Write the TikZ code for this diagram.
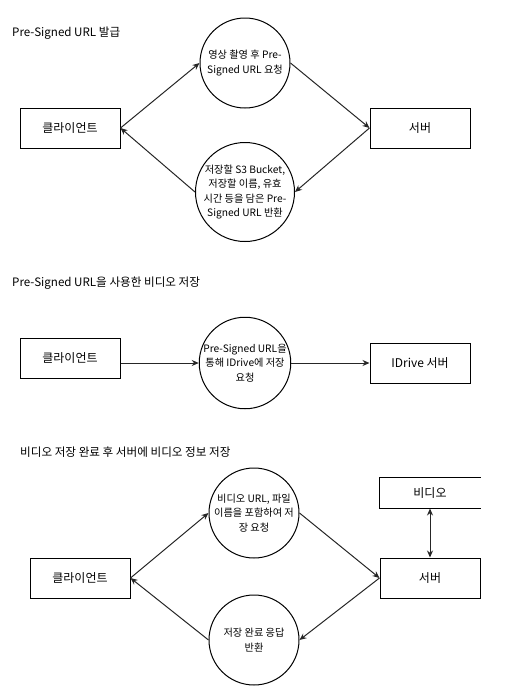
\documentclass[tikz,border=0pt]{standalone}
\usepackage{fontspec}
\setmainfont{Noto Sans CJK KR}
\usetikzlibrary{arrows.meta,positioning,calc}

\begin{document}
\begin{tikzpicture}[x=1pt,y=1pt,
    every node/.style={font=\fontsize{12}{14}\selectfont},
    box/.style={draw,line width=1pt,minimum width=100pt,minimum height=40pt,inner sep=0pt},
    proc/.style={draw,circle,line width=1pt,minimum size=90pt,inner sep=0pt,align=center,
                 font=\fontsize{10.2}{14.5}\selectfont},
    title/.style={anchor=west,inner sep=0pt,font=\fontsize{11.6}{13}\selectfont},
    flow/.style={-{Stealth[length=7pt,width=6pt]},line width=1pt,draw=black!85}]
  \useasboundingbox (0,0) rectangle (519,-689);

  % Pre-Signed URL 발급
  \node[title] (t1) at (12,-33) {Pre-Signed URL 발급};
  \node[box]  (cli1) at (70,-128)  {클라이언트};
  \node[box]  (srv1) at (420,-128) {서버};
  \node[proc] (req1) at (245,-63)  {영상 촬영 후 Pre-\\Signed URL 요청};
  \node[proc] (ret1) at (245,-192) {저장할 S3 Bucket,\\저장할 이름, 유효\\시간 등을 담은 Pre-\\Signed URL 반환};
  \draw[flow] (cli1.east) -- (req1.west);
  \draw[flow] (req1.east) -- (srv1.west);
  \draw[flow] (srv1.west) -- (ret1.east);
  \draw[flow] (ret1.west) -- (cli1.east);

  % Pre-Signed URL을 사용한 비디오 저장
  \node[title] (t2) at (12,-283) {Pre-Signed URL을 사용한 비디오 저장};
  \node[box]  (cli2) at (70,-358)  {클라이언트};
  \node[proc] (up2)  at (245,-363) {Pre-Signed URL을\\통해 IDrive에 저장\\요청};
  \node[box]  (ids2) at (420,-363) {IDrive 서버};
  \draw[flow] (cli2.east |- up2.west) -- (up2.west);
  \draw[flow] (up2.east) -- (ids2.west);

  % 비디오 저장 완료 후 서버에 비디오 정보 저장
  \node[title] (t3) at (20,-452) {비디오 저장 완료 후 서버에 비디오 정보 저장};
  \node[box]  (cli3) at (80,-578)  {클라이언트};
  \node[box]  (srv3) at (430,-578) {서버};
  \node[box,draw=none,minimum height=30pt] (vid3) at (430,-493) {비디오};
  \draw[line width=1pt] (vid3.north east) -- (vid3.north west) -- (vid3.south west) -- (vid3.south east);
  \node[proc] (req3) at (254,-513) {비디오 URL, 파일\\이름을 포함하여 저\\장 요청};
  \node[proc] (ret3) at (254,-640) {저장 완료 응답\\반환};
  \draw[flow] (cli3.east) -- (req3.west);
  \draw[flow] (req3.east) -- (srv3.west);
  \draw[flow] (srv3.west) -- (ret3.east);
  \draw[flow] (ret3.west) -- (cli3.east);
  \draw[flow,{Stealth[length=7pt,width=6pt]}-{Stealth[length=7pt,width=6pt]}] (vid3) -- (srv3);
\end{tikzpicture}
\end{document}
